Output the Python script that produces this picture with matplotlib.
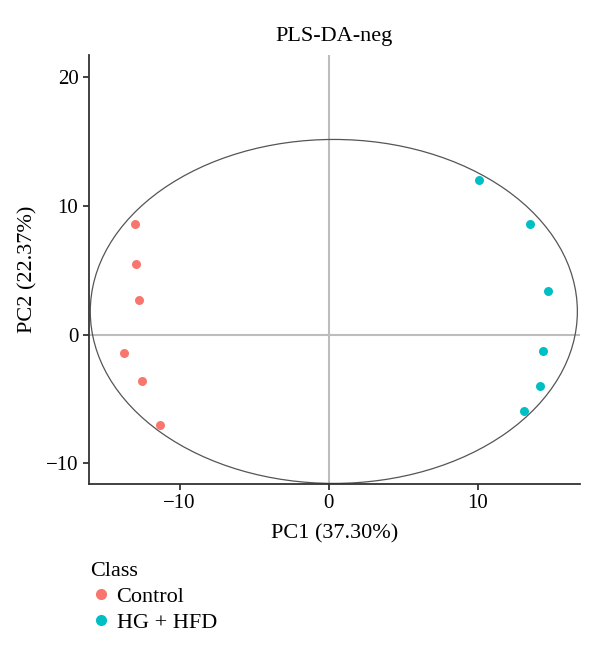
import matplotlib
matplotlib.use("Agg")
import matplotlib.pyplot as plt
from matplotlib.patches import Ellipse
from matplotlib.lines import Line2D

plt.rcParams['font.family'] = ['Liberation Serif', 'DejaVu Serif']

# scores
classes = ['Control', 'HG + HFD']
colors = ['#F8766D', '#00BFC4']
control_pc1 = [-13.0, -12.95, -12.75, -13.75, -12.5, -11.3]
control_pc2 = [8.6, 5.5, 2.7, -1.4, -3.6, -7.0]
hg_pc1 = [10.1, 13.5, 14.7, 14.4, 14.2, 13.1]
hg_pc2 = [12.0, 8.6, 3.4, -1.3, -4.0, -5.9]

# 95% ellipse: centre, full width, full height
ell_center = (0.35, 1.8)
ell_size = (32.7, 26.7)

fig = plt.figure(figsize=(6, 6.48), dpi=100)
ax = fig.add_axes([0.148, 0.253, 0.818, 0.662])

ax.axhline(0, color='#bdbdbd', lw=1.5, zorder=1)
ax.axvline(0, color='#bdbdbd', lw=1.5, zorder=1)

ax.add_patch(Ellipse(ell_center, ell_size[0], ell_size[1], fill=False,
                     edgecolor='#555555', lw=0.9, zorder=2))

ax.scatter(control_pc1, control_pc2, s=42, color=colors[0], zorder=3, linewidths=0)
ax.scatter(hg_pc1, hg_pc2, s=42, color=colors[1], zorder=3, linewidths=0)

ax.set_xlim(-16.1, 16.85)
ax.set_ylim(-11.6, 21.7)
ax.set_xticks([-10, 0, 10])
ax.set_yticks([-10, 0, 10, 20])
ax.set_xticklabels(['\u221210', '0', '10'])
ax.set_yticklabels(['\u221210', '0', '10', '20'])

for side in ['top', 'right']:
    ax.spines[side].set_visible(False)
for side in ['left', 'bottom']:
    ax.spines[side].set_color('#333333')
    ax.spines[side].set_linewidth(1.3)
ax.tick_params(length=4, width=1.3, color='#333333', labelsize=15, labelcolor='black')

ax.set_xlabel('PC1 (37.30%)', fontsize=16, labelpad=8)
ax.set_ylabel('PC2 (22.37%)', fontsize=16, labelpad=6)
ax.set_title('PLS-DA-neg', fontsize=16, pad=10)

handles = [Line2D([], [], marker='o', ls='', color=c, markersize=7) for c in colors]
leg = fig.legend(handles, classes, title='Class', loc='upper left',
                 bbox_to_anchor=(0.135, 0.147), frameon=False, fontsize=16,
                 title_fontsize=16, handletextpad=0.2, labelspacing=0.25,
                 borderaxespad=0, handlelength=1.0)
leg._legend_box.align = 'left'

fig.savefig('out.png', dpi=100)
